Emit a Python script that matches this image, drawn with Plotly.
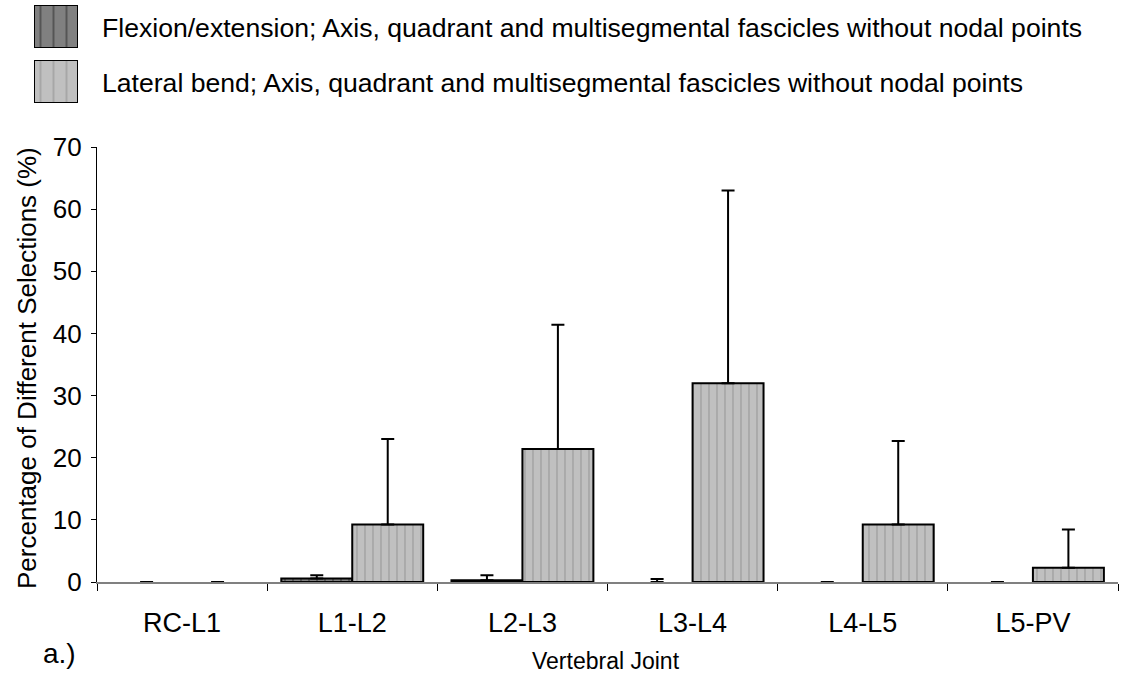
import plotly.graph_objects as go

# Data: percentage of different selections per vertebral joint
joints = ["RC-L1", "L1-L2", "L2-L3", "L3-L4", "L4-L5", "L5-PV"]
flexion_mean = [0, 0.55, 0.3, 0, 0, 0]
flexion_err = [0, 0.55, 0.8, 0.5, 0, 0]
lateral_mean = [0, 9.25, 21.4, 32.0, 9.25, 2.3]
lateral_err = [0, 13.75, 20.0, 31.0, 13.45, 6.15]

series_names = [
    "Flexion/extension; Axis, quadrant and multisegmental fascicles without nodal points",
    "Lateral bend; Axis, quadrant and multisegmental fascicles without nodal points",
]
y_ticks = [0, 10, 20, 30, 40, 50, 60, 70]

W, H = 1121, 689
FONT = "Liberation Sans, Arial, sans-serif"


def px_x(x):
    return x / W


def px_y(y):
    return 1 - y / H


# plot area in pixels
PL, PR, PT, PB = 97, 1118, 147, 582

flex_fill = "#808080"
flex_dash = "#2a2a2a"
lat_fill = "#c0c0c0"
lat_dash = "#8e8e8e"

fig = go.Figure()

err_style = dict(type="data", symmetric=False, color="black", thickness=2, width=6.5)


def outline_widths(values):
    # empty bars get no outline so only their error cap shows
    return [2 if v > 0 else 0 for v in values]


fig.add_trace(go.Bar(
    x=joints, y=flexion_mean, name=series_names[0], showlegend=False,
    marker=dict(color=flex_fill,
                line=dict(color="black", width=outline_widths(flexion_mean)),
                pattern=dict(shape="|", fgcolor=flex_dash, bgcolor=flex_fill,
                             size=8, solidity=0.22)),
    error_y=dict(array=flexion_err, arrayminus=[0] * len(joints), **err_style),
))
fig.add_trace(go.Bar(
    x=joints, y=lateral_mean, name=series_names[1], showlegend=False,
    marker=dict(color=lat_fill,
                line=dict(color="black", width=outline_widths(lateral_mean)),
                pattern=dict(shape="|", fgcolor=lat_dash, bgcolor=lat_fill,
                             size=8, solidity=0.22)),
    error_y=dict(array=lateral_err, arrayminus=[0] * len(joints), **err_style),
))

# legend swatches drawn as single bars in small auxiliary axes
swatches = [
    (flex_fill, flex_dash, 5, 48),
    (lat_fill, lat_dash, 60, 103),
]
for i, (fill, dash, top, bottom) in enumerate(swatches):
    n = i + 2
    fig.add_trace(go.Bar(
        x=[0], y=[1], width=[1], showlegend=False, hoverinfo="skip",
        xaxis=f"x{n}", yaxis=f"y{n}",
        marker=dict(color=fill, line=dict(color="black", width=2),
                    pattern=dict(shape="|", fgcolor=dash, bgcolor=fill,
                                 size=13, solidity=0.15)),
    ))
    hidden = dict(visible=False, fixedrange=True)
    fig.update_layout({
        f"xaxis{n}": dict(domain=[px_x(34), px_x(78)], range=[-0.5, 0.5],
                          anchor=f"y{n}", **hidden),
        f"yaxis{n}": dict(domain=[px_y(bottom), px_y(top)], range=[0, 1],
                          anchor=f"x{n}", **hidden),
    })
    fig.add_annotation(
        text=series_names[i], xref="paper", yref="paper",
        x=px_x(100), y=px_y((top + bottom) / 2 + 1), xanchor="left", yanchor="middle",
        showarrow=False, font=dict(family=FONT, size=26.6, color="black"),
    )

fig.update_layout(
    width=W, height=H,
    margin=dict(l=0, r=0, t=0, b=0),
    paper_bgcolor="white", plot_bgcolor="white",
    barmode="group", bargap=0.166, bargroupgap=0,
    font=dict(family=FONT, color="black"),
    xaxis=dict(
        domain=[px_x(PL), px_x(PR)], anchor="y",
        showline=True, linecolor="#808080", linewidth=1.5,
        ticks="outside", tickson="boundaries", ticklen=7, tickcolor="black",
        tickfont=dict(family=FONT, size=27), ticklabelstandoff=16,
        showgrid=False, zeroline=False, automargin=False,
    ),
    yaxis=dict(
        domain=[px_y(PB), px_y(PT)], anchor="x",
        range=[0, 70], tickvals=y_ticks,
        showline=True, linecolor="black", linewidth=1.2,
        ticks="outside", ticklen=5, tickcolor="black",
        tickfont=dict(family=FONT, size=26), ticklabelstandoff=4,
        showgrid=False, zeroline=False, automargin=False,
    ),
)

fig.add_annotation(
    text="Percentage of Different Selections (%)", textangle=-90,
    xref="paper", yref="paper", x=px_x(27), y=px_y(368),
    xanchor="center", yanchor="middle", showarrow=False,
    font=dict(family=FONT, size=26, color="black"),
)
fig.add_annotation(
    text="Vertebral Joint", xref="paper", yref="paper",
    x=px_x(606), y=px_y(661), xanchor="center", yanchor="middle",
    showarrow=False, font=dict(family=FONT, size=23, color="black"),
)
fig.add_annotation(
    text="a.)", xref="paper", yref="paper",
    x=px_x(41), y=px_y(653), xanchor="left", yanchor="middle",
    showarrow=False, font=dict(family=FONT, size=28, color="black"),
)

fig.write_html("out.html")
